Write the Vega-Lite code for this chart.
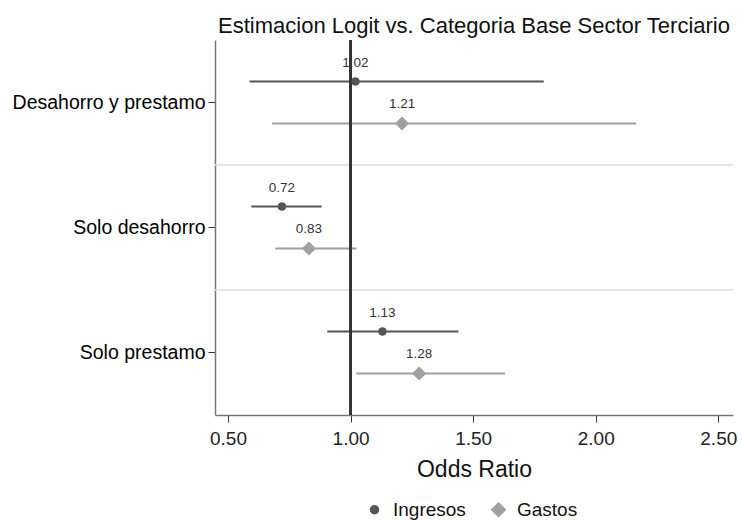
{
  "$schema": "https://vega.github.io/schema/vega-lite/v6.json",
  "autosize": {"type": "none"},
  "padding": {"left": 215, "top": 40, "right": 9, "bottom": 105},
  "width": 518,
  "height": 375,
  "background": "white",
  "config": {
    "font": "Liberation Sans",
    "view": {"stroke": null}
  },
  "title": {
    "text": "Estimacion Logit vs. Categoria Base Sector Terciario",
    "fontSize": 22,
    "fontWeight": "normal",
    "color": "#111",
    "anchor": "middle",
    "offset": 1
  },
  "data": {
    "values": [
      {"cat": "Desahorro y prestamo", "serie": "Ingresos", "or": 1.02, "lo": 0.588, "hi": 1.788},
      {"cat": "Desahorro y prestamo", "serie": "Gastos", "or": 1.21, "lo": 0.68, "hi": 2.165},
      {"cat": "Solo desahorro", "serie": "Ingresos", "or": 0.72, "lo": 0.595, "hi": 0.882},
      {"cat": "Solo desahorro", "serie": "Gastos", "or": 0.83, "lo": 0.693, "hi": 1.024},
      {"cat": "Solo prestamo", "serie": "Ingresos", "or": 1.13, "lo": 0.905, "hi": 1.44},
      {"cat": "Solo prestamo", "serie": "Gastos", "or": 1.28, "lo": 1.023, "hi": 1.63}
    ]
  },
  "layer": [
    {
      "transform": [
        {"filter": "datum.serie == 'Ingresos' && datum.cat != 'Desahorro y prestamo'"}
      ],
      "mark": {"type": "rule", "strokeWidth": 1.5, "color": "#dcdcdc"},
      "encoding": {
        "y": {
          "field": "cat", "type": "nominal", "bandPosition": 0,
          "sort": ["Desahorro y prestamo", "Solo desahorro", "Solo prestamo"],
          "scale": {"paddingInner": 0, "paddingOuter": 0},
          "axis": {
            "title": null,
            "labelFontSize": 19.5,
            "labelLimit": 400,
            "labelColor": "#000",
            "labelPadding": 3,
            "tickSize": 7,
            "tickColor": "#333",
            "domainColor": "#777",
            "domainWidth": 1.5,
            "grid": false,
            "bandPosition": 0.5
          }
        }
      }
    },
    {
      "mark": {"type": "point", "filled": true, "opacity": 1, "size": 64},
      "encoding": {
        "x": {
          "field": "or", "type": "quantitative",
          "scale": {"domain": [0.447, 2.56], "nice": false, "zero": false},
          "axis": {
            "title": "Odds Ratio",
            "titleFontSize": 23,
            "titleFontWeight": "normal",
            "titleColor": "#111",
            "titlePadding": 10,
            "values": [0.5, 1, 1.5, 2, 2.5],
            "format": ".2f",
            "labelFontSize": 19,
            "labelColor": "#222",
            "labelPadding": 7,
            "tickSize": 7,
            "tickColor": "#333",
            "domainColor": "#777",
            "domainWidth": 1.5,
            "grid": false
          }
        },
        "y": {"field": "cat", "type": "nominal"},
        "yOffset": {
          "field": "serie", "type": "nominal",
          "sort": ["Ingresos", "Gastos"],
          "scale": {"paddingInner": 0, "paddingOuter": 0.49}
        },
        "color": {
          "field": "serie", "type": "nominal",
          "sort": ["Ingresos", "Gastos"],
          "scale": {"domain": ["Ingresos", "Gastos"], "range": ["#555555", "#a0a0a0"]},
          "legend": {
            "title": null,
            "orient": "none",
            "direction": "horizontal",
            "legendX": 150,
            "legendY": 460,
            "labelFontSize": 19,
            "labelColor": "#111",
            "symbolSize": 64,
            "columnPadding": 22,
            "labelOffset": 9
          }
        },
        "shape": {
          "field": "serie", "type": "nominal",
          "sort": ["Ingresos", "Gastos"],
          "scale": {"domain": ["Ingresos", "Gastos"], "range": ["circle", "M0,-1.7L1.7,0L0,1.7L-1.7,0Z"]}
        }
      }
    },
    {
      "mark": {"type": "rule", "strokeWidth": 2},
      "encoding": {
        "x": {"field": "lo", "type": "quantitative"},
        "x2": {"field": "hi"},
        "y": {"field": "cat", "type": "nominal"},
        "yOffset": {"field": "serie", "type": "nominal", "sort": ["Ingresos", "Gastos"]},
        "color": {"field": "serie", "type": "nominal", "sort": ["Ingresos", "Gastos"]}
      }
    },
    {
      "mark": {"type": "rule", "strokeWidth": 2, "color": "#333"},
      "encoding": {
        "x": {"datum": 1, "type": "quantitative"}
      }
    },
    {
      "mark": {"type": "point", "filled": true, "opacity": 1, "size": 64},
      "encoding": {
        "x": {"field": "or", "type": "quantitative"},
        "y": {"field": "cat", "type": "nominal"},
        "yOffset": {"field": "serie", "type": "nominal", "sort": ["Ingresos", "Gastos"]},
        "color": {"field": "serie", "type": "nominal", "sort": ["Ingresos", "Gastos"]},
        "shape": {"field": "serie", "type": "nominal", "sort": ["Ingresos", "Gastos"]}
      }
    },
    {
      "mark": {"type": "text", "dy": -19, "fontSize": 13.5, "color": "#333"},
      "encoding": {
        "x": {"field": "or", "type": "quantitative"},
        "y": {"field": "cat", "type": "nominal"},
        "yOffset": {"field": "serie", "type": "nominal", "sort": ["Ingresos", "Gastos"]},
        "text": {"field": "or", "type": "quantitative", "format": ".2f"}
      }
    }
  ]
}
